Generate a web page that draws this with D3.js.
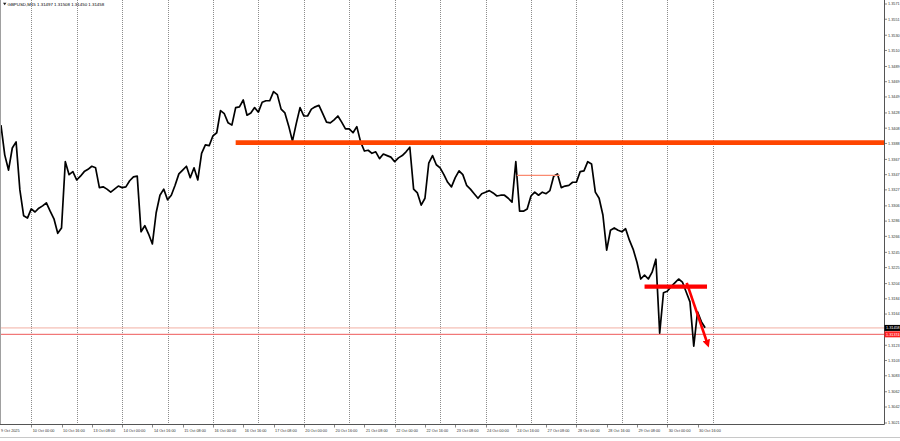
<!DOCTYPE html>
<html>
<head>
<meta charset="utf-8">
<script src="https://cdn.jsdelivr.net/npm/d3@7"></script>
<style>
	body { margin: 0; background: #fff; }
	svg { display: block; font-family: 'Liberation Sans', Arial, sans-serif; }
</style>
</head>
<body>
<svg width="900" height="441"></svg>
<script>
const symbolTitle = 'GBPUSD,M15  1.31497 1.31508 1.31450 1.31458';

// trading days shown, hours counted from 10 Oct 00:00 (weekends skipped)
const tradingDays = ['10 Oct', '13 Oct', '14 Oct', '15 Oct', '16 Oct', '17 Oct', '20 Oct', '21 Oct',
	'22 Oct', '23 Oct', '24 Oct', '27 Oct', '28 Oct', '29 Oct', '30 Oct'];
const startHour = -16,
	stepHours = 2;

// closes every 2 hours
const closes = [
	1.3412, 1.3373, 1.3353, 1.3382, 1.3390, 1.3327, 1.3293, 1.3290, 1.3302, 1.3298,
	1.3303, 1.3306, 1.3310, 1.3299, 1.3289, 1.3270, 1.3277, 1.3364, 1.3347, 1.3351,
	1.3340, 1.3345, 1.3351, 1.3354, 1.3358, 1.3356, 1.3330, 1.3331, 1.3328, 1.3324,
	1.3328, 1.3332, 1.3330, 1.3331, 1.3339, 1.3344, 1.3345, 1.3272, 1.3280, 1.3269,
	1.3256, 1.3297, 1.3320, 1.3328, 1.3314, 1.3320, 1.3333, 1.3348, 1.3353, 1.3358,
	1.3343, 1.3356, 1.3340, 1.3375, 1.3386, 1.3385, 1.3398, 1.3402, 1.3431, 1.3427,
	1.3415, 1.3412, 1.3435, 1.3436, 1.3445, 1.3425, 1.3428, 1.3435, 1.3429, 1.3442,
	1.3444, 1.3444, 1.3456, 1.3452, 1.3433, 1.3428, 1.3411, 1.3391, 1.3414, 1.3435,
	1.3424, 1.3424, 1.3433, 1.3436, 1.3438, 1.3427, 1.3416, 1.3415, 1.3419, 1.3424,
	1.3416, 1.3407, 1.3407, 1.3402, 1.3410, 1.3390, 1.3378, 1.3379, 1.3375, 1.3377,
	1.3368, 1.3374, 1.3372, 1.3370, 1.3364, 1.3369, 1.3372, 1.3377, 1.3383, 1.3328,
	1.3323, 1.3307, 1.3316, 1.3362, 1.3372, 1.3360, 1.3356, 1.3347, 1.3337, 1.3331,
	1.3343, 1.3352, 1.3347, 1.3333, 1.3328, 1.3322, 1.3316, 1.3322, 1.3324, 1.3326,
	1.3323, 1.3319, 1.3320, 1.3320, 1.3316, 1.3311, 1.3364, 1.3299, 1.3299, 1.3302,
	1.3319, 1.3324, 1.3320, 1.3324, 1.3322, 1.3326, 1.3345, 1.3348, 1.3330, 1.3332,
	1.3333, 1.3337, 1.3337, 1.3351, 1.3352, 1.3364, 1.3361, 1.3324, 1.3316, 1.3294,
	1.3248, 1.3274, 1.3277, 1.3274, 1.3272, 1.3276, 1.3261, 1.3249, 1.3232, 1.3210,
	1.3215, 1.3210, 1.3219, 1.3236, 1.3139, 1.3192, 1.3194, 1.3200, 1.3205, 1.3210,
	1.3206, 1.3193, 1.3180, 1.3122, 1.3167, 1.3154, 1.3146
];

const priceTicks = ['1.3571', '1.3551', '1.3530', '1.3510', '1.3489', '1.3469', '1.3449', '1.3428',
	'1.3408', '1.3388', '1.3367', '1.3347', '1.3327', '1.3306', '1.3286', '1.3266', '1.3245', '1.3225',
	'1.3204', '1.3184', '1.3164', '1.3143', '1.3123', '1.3103', '1.3083', '1.3062', '1.3042', '1.3021'];

const bidPrice = 1.31458,
	redLinePrice = 1.31374;

// drawn objects: horizontal levels (price, from hour, to hour) and the trend arrow
const levelPrices = [1.3389, 1.3346, 1.3200];
const levelFrom = [108, 256.5, 324];
const levelTo = [450.5, 279.3, 357];
const arrowHours = [346.3, 357.4];
const arrowPrices = [1.3205, 1.3124];

const svg = d3.select('svg'),
	plotW = 884,
	plotH = 424;

const x = d3.scaleLinear().domain([-16.5, 450.5]).range([0, plotW]);
const y = d3.scaleLinear().domain([1.3571, 1.3021]).range([4, 423]);

const defs = svg.append('defs');
defs.append('clipPath').attr('id', 'plot')
	.append('rect').attr('width', plotW).attr('height', plotH);
defs.append('marker')
	.attr('id', 'head')
	.attr('viewBox', '0 0 10 10')
	.attr('refX', 6).attr('refY', 5)
	.attr('markerWidth', 3).attr('markerHeight', 3)
	.attr('orient', 'auto')
	.append('path').attr('d', 'M0,0 L10,5 L0,10 z').attr('fill', '#ff0000');

const plot = svg.append('g').attr('clip-path', 'url(#plot)');

// day separators
const dayHours = d3.range(0, tradingDays.length + 1).map(d => d * 24);
plot.append('g').selectAll('line')
	.data(dayHours)
	.enter().append('line')
	.attr('x1', d => Math.round(x(d)) + 0.5).attr('x2', d => Math.round(x(d)) + 0.5)
	.attr('y1', 0).attr('y2', plotH)
	.attr('stroke', '#8c8c8c')
	.attr('stroke-width', 1)
	.attr('stroke-dasharray', '1,1');

// bid and red price lines
plot.append('line')
	.attr('x1', 0).attr('x2', plotW)
	.attr('y1', y(bidPrice)).attr('y2', y(bidPrice))
	.attr('stroke', '#f2b0a4').attr('stroke-width', 1);
plot.append('line')
	.attr('x1', 0).attr('x2', plotW)
	.attr('y1', y(redLinePrice)).attr('y2', y(redLinePrice))
	.attr('stroke', '#ee5a5a').attr('stroke-width', 1);

// price
const line = d3.line()
	.x((d, i) => x(startHour + i * stepHours))
	.y(d => y(d));

plot.append('path')
	.datum(closes)
	.attr('d', line)
	.attr('fill', 'none')
	.attr('stroke', '#000')
	.attr('stroke-width', 1.7)
	.attr('stroke-linejoin', 'round');

// levels
const levelColors = ['#ff4500', '#fa8a70', '#ff0000'],
	levelWidths = [4.6, 1.4, 4.2];
plot.append('g').selectAll('line')
	.data(levelPrices)
	.enter().append('line')
	.attr('x1', (d, i) => x(levelFrom[i]))
	.attr('x2', (d, i) => x(levelTo[i]))
	.attr('y1', d => y(d)).attr('y2', d => y(d))
	.attr('stroke', (d, i) => levelColors[i])
	.attr('stroke-width', (d, i) => levelWidths[i]);

plot.append('line')
	.attr('x1', x(arrowHours[0])).attr('y1', y(arrowPrices[0]))
	.attr('x2', x(arrowHours[1])).attr('y2', y(arrowPrices[1]))
	.attr('stroke', '#ff0000')
	.attr('stroke-width', 2.6)
	.attr('marker-end', 'url(#head)');

// frame
svg.append('line').attr('x1', 0.5).attr('x2', 0.5).attr('y1', 0).attr('y2', plotH)
	.attr('stroke', '#a0a0a0');
svg.append('line').attr('x1', plotW + 0.5).attr('x2', plotW + 0.5).attr('y1', 0).attr('y2', plotH + 0.5)
	.attr('stroke', '#555');
svg.append('line').attr('x1', 0).attr('x2', plotW + 0.5).attr('y1', plotH + 0.5).attr('y2', plotH + 0.5)
	.attr('stroke', '#555');
svg.append('line').attr('x1', 0).attr('x2', 900).attr('y1', 437.5).attr('y2', 437.5)
	.attr('stroke', '#c8c8c8');

// right price axis
const tickValues = priceTicks.map(Number);
const labelClash = v => Math.abs(y(v) - y(bidPrice)) < 4 || Math.abs(y(v) - y(redLinePrice)) < 4;
const yAxis = svg.append('g').attr('transform', `translate(${plotW + 0.5},0)`);
yAxis.selectAll('line')
	.data(tickValues)
	.enter().append('line')
	.attr('x1', 0).attr('x2', 2.5)
	.attr('y1', d => y(d)).attr('y2', d => y(d))
	.attr('stroke', '#555').attr('stroke-width', 0.7);
yAxis.selectAll('text')
	.data(priceTicks.filter(t => !labelClash(Number(t))))
	.enter().append('text')
	.attr('x', 3.5)
	.attr('y', d => y(Number(d)))
	.attr('dy', '0.35em')
	.attr('font-size', 3.8)
	.attr('fill', '#333')
	.text(d => d);

// current price tags
const tags = [{price: bidPrice, bg: '#000', label: '1.31458'}, {price: redLinePrice, bg: '#ff2020', label: '1.31374'}];
const tag = yAxis.selectAll('g.tag')
	.data(tags)
	.enter().append('g').attr('class', 'tag');
tag.append('rect')
	.attr('x', 0).attr('y', d => y(d.price) - 3)
	.attr('width', 16).attr('height', 6)
	.attr('fill', d => d.bg);
tag.append('text')
	.attr('x', 1.5)
	.attr('y', d => y(d.price))
	.attr('dy', '0.35em')
	.attr('font-size', 3.8)
	.attr('fill', '#fff')
	.text(d => d.label);

// bottom time axis, a label every 16 hours
const timeTicks = d3.range(0, tradingDays.length * 24, 16);
const timeLabel = h => tradingDays[Math.floor(h / 24)] + ' ' + String(h % 24).padStart(2, '0') + ':00';
const xAxis = svg.append('g').attr('transform', `translate(0,${plotH + 0.5})`);
xAxis.selectAll('line')
	.data(timeTicks)
	.enter().append('line')
	.attr('x1', d => Math.round(x(d)) + 0.5).attr('x2', d => Math.round(x(d)) + 0.5)
	.attr('y1', 0).attr('y2', 3)
	.attr('stroke', '#555').attr('stroke-width', 0.7);
xAxis.selectAll('text')
	.data(timeTicks)
	.enter().append('text')
	.attr('x', d => x(d) + 1.5)
	.attr('y', 7.5)
	.attr('font-size', 3.8)
	.attr('fill', '#333')
	.text(timeLabel);
xAxis.append('text')
	.attr('x', 1).attr('y', 7.5)
	.attr('font-size', 3.8)
	.attr('fill', '#333')
	.text('9 Oct 2025');

// title
svg.append('path').attr('d', 'M3,2.8 L6.4,2.8 L4.7,5.2 z').attr('fill', '#222');
svg.append('text')
	.attr('x', 7.5).attr('y', 5.6)
	.attr('font-size', 4.4)
	.attr('fill', '#000')
	.text(symbolTitle);
</script>
</body>
</html>
